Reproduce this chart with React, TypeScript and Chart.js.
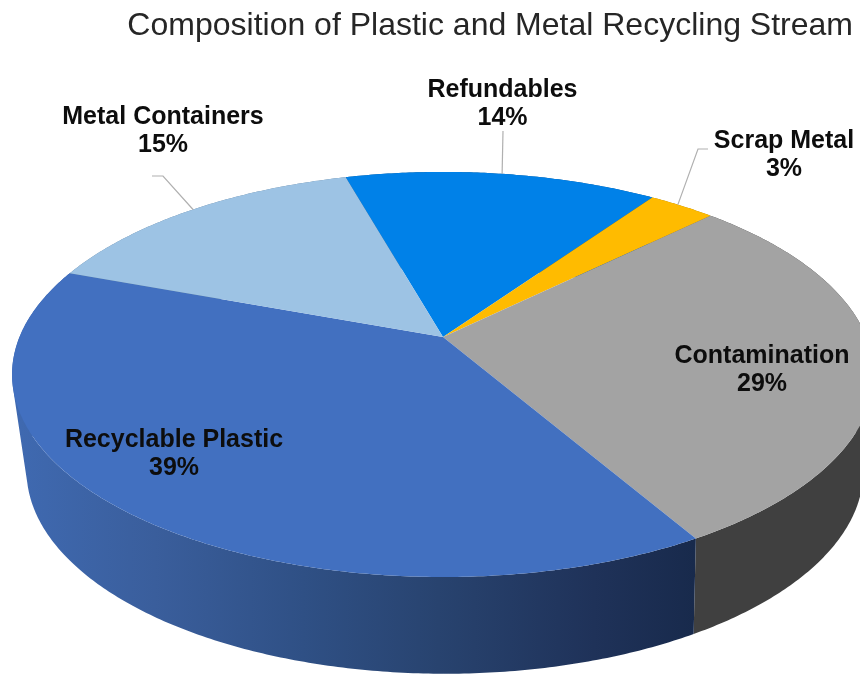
import { useEffect, useRef } from "react";
import { Chart, registerables } from "chart.js";

Chart.register(...registerables);

const titleText = "Composition of Plastic and Metal Recycling Stream";
const categories = ["Refundables", "Scrap Metal", "Contamination", "Recyclable Plastic", "Metal Containers"];
const shares = [14, 3, 29, 39, 15];
const faceColors = ["#0081E8", "#FFBB00", "#A3A3A3", "#4270C0", "#9DC3E4"];
const wallColors = ["#00508F", "#9C7300", "#404040", "#2A4677", "#5F7D99"];

// Position of each label's two text lines (centre x, first line middle y).
const labelSpots = [
  [502.5, 90],
  [784, 141],
  [762, 356],
  [174, 440],
  [163, 117],
];
// Leader lines: where along the slice rim they start, then their elbow and end.
const leaders = [
  { slice: 0, along: 0.5, via: [[503, 131]] },
  { slice: 1, along: 0.43, via: [[698, 149], [708, 149]] },
  { slice: 4, along: 0.51, via: [[163, 176], [152, 176]] },
];

// Perspective projection of a unit disc onto the page: near edge larger than far edge.
type Lens = { x0: number; y0: number; a: number; b: number; k: number };
const topLens: Lens = { x0: 443, y0: 337, a: 423.5, b: 195.6, k: -0.185 };
const bottomLens: Lens = { x0: 445, y0: 430, a: 410, b: 195, k: -0.2 };

function project(l: Lens, angle: number): [number, number] {
  const u = Math.cos(angle);
  const v = Math.sin(angle);
  const d = 1 + l.k * v;
  return [l.x0 + (l.a * u) / d, l.y0 + (l.b * v) / d];
}

function rimSteps(start: number, end: number): number[] {
  const n = Math.max(2, Math.ceil((end - start) / 0.01));
  return Array.from({ length: n + 1 }, (_, i) => start + ((end - start) * i) / n);
}

function drawWall(ctx: CanvasRenderingContext2D, start: number, end: number, fill: string | CanvasGradient) {
  const steps = rimSteps(start, end);
  ctx.beginPath();
  for (let i = 0; i < steps.length - 1; i++) {
    const q = [
      project(topLens, steps[i]),
      project(topLens, steps[i + 1]),
      project(bottomLens, steps[i + 1]),
      project(bottomLens, steps[i]),
    ];
    let area = 0;
    q.forEach((p, j) => {
      const n = q[(j + 1) % 4];
      area += p[0] * n[1] - n[0] * p[1];
    });
    if (area < 0) q.reverse();
    q.forEach((p, j) => (j === 0 ? ctx.moveTo(p[0], p[1]) : ctx.lineTo(p[0], p[1])));
    ctx.closePath();
  }
  ctx.fillStyle = fill;
  ctx.fill("nonzero");
}

function drawFace(ctx: CanvasRenderingContext2D, start: number, end: number, fill: string) {
  ctx.beginPath();
  ctx.moveTo(topLens.x0, topLens.y0);
  rimSteps(start, end).forEach((a) => {
    const p = project(topLens, a);
    ctx.lineTo(p[0], p[1]);
  });
  ctx.closePath();
  ctx.fillStyle = fill;
  ctx.fill();
}

// Replaces the flat arcs with a tilted, extruded pie built from the computed arc angles.
const tiltedPie = {
  id: "tiltedPie",
  beforeDatasetsDraw(chart: Chart) {
    const ctx = chart.ctx;
    const arcs = chart.getDatasetMeta(0).data as any[];
    const shade = ctx.createLinearGradient(20, 0, 695, 0);
    shade.addColorStop(0, "#3F69B0");
    shade.addColorStop(0.2, "#3A5E9C");
    shade.addColorStop(0.42, "#2F5085");
    shade.addColorStop(0.62, "#28436F");
    shade.addColorStop(0.85, "#1F3259");
    shade.addColorStop(1, "#182A4C");
    ctx.save();
    arcs.forEach((arc, i) => {
      drawWall(ctx, arc.startAngle, arc.endAngle, categories[i] === "Recyclable Plastic" ? shade : wallColors[i]);
    });
    arcs.forEach((arc, i) => drawFace(ctx, arc.startAngle, arc.endAngle, faceColors[i]));
    ctx.restore();
    return false;
  },
  afterDraw(chart: Chart) {
    const ctx = chart.ctx;
    const arcs = chart.getDatasetMeta(0).data as any[];
    ctx.save();
    ctx.strokeStyle = "#B0B0B0";
    ctx.lineWidth = 1.2;
    leaders.forEach(({ slice, along, via }) => {
      const arc = arcs[slice];
      const from = project(topLens, arc.startAngle + (arc.endAngle - arc.startAngle) * along);
      ctx.beginPath();
      ctx.moveTo(from[0], from[1]);
      via.forEach((p) => ctx.lineTo(p[0], p[1]));
      ctx.stroke();
    });
    ctx.fillStyle = "#0D0D0D";
    ctx.font = 'bold 25px "Liberation Sans", Arial, sans-serif';
    ctx.textAlign = "center";
    ctx.textBaseline = "middle";
    categories.forEach((name, i) => {
      const [x, y] = labelSpots[i];
      ctx.fillText(name, x, y);
      ctx.fillText(`${shares[i]}%`, x, y + 28.5);
    });
    ctx.restore();
  },
};

export default function App() {
  const canvasRef = useRef<HTMLCanvasElement>(null);
  useEffect(() => {
    const chart = new Chart(canvasRef.current!, {
      type: "pie",
      data: {
        labels: categories,
        datasets: [{ data: shares, backgroundColor: faceColors, borderWidth: 0 }],
      },
      options: {
        responsive: false,
        animation: false,
        events: [],
        rotation: -15.7,
        layout: { padding: { right: 7, top: 7 } },
        plugins: {
          legend: { display: false },
          tooltip: { enabled: false },
          title: {
            display: true,
            text: titleText,
            align: "end",
            color: "#262626",
            font: { family: '"Liberation Sans", Arial, sans-serif', size: 32, weight: "normal" },
            padding: 0,
          },
        },
      },
      plugins: [tiltedPie],
    });
    return () => chart.destroy();
  }, []);
  return (
    <div style={{ position: "fixed", left: 0, top: 0, width: 860, height: 675, background: "#fff" }}>
      <canvas ref={canvasRef} width={860} height={675} style={{ display: "block" }} />
    </div>
  );
}
